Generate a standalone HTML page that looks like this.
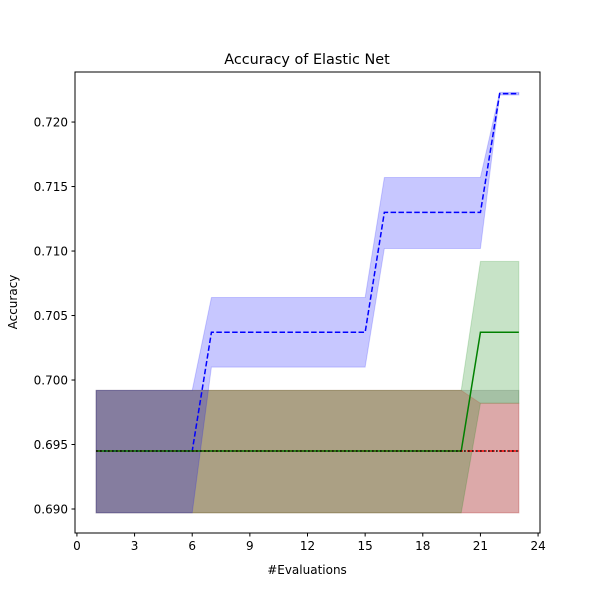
<!DOCTYPE html>
<html><head><meta charset="utf-8"><style>
body{margin:0;background:#fff}
text{font-family:"DejaVu Sans","Liberation Sans",sans-serif;fill:#000}
</style></head><body>
<svg id="chart" width="600" height="600" xmlns="http://www.w3.org/2000/svg">
<rect width="600" height="600" fill="#fff"/>
<text x="307" y="64" font-size="14.4" text-anchor="middle">Accuracy of Elastic Net</text>
<g id="bands"></g><g id="lines"></g>
<rect x="75" y="72" width="465" height="461" fill="none" stroke="#000" stroke-width="1"/>
<g id="axes"></g>
<text x="307" y="574" font-size="12" text-anchor="middle">#Evaluations</text>
<text transform="translate(17,302) rotate(-90)" font-size="12" text-anchor="middle">Accuracy</text>
</svg>
<script>
const evals=[1,2,3,4,5,6,7,8,9,10,11,12,13,14,15,16,17,18,19,20,21,22,23];
const blueMean=[0.6945,0.6945,0.6945,0.6945,0.6945,0.6945,0.7037,0.7037,0.7037,0.7037,0.7037,0.7037,0.7037,0.7037,0.7037,0.7130,0.7130,0.7130,0.7130,0.7130,0.7130,0.7222,0.7222];
const blueLo=[0.6897,0.6897,0.6897,0.6897,0.6897,0.6897,0.7010,0.7010,0.7010,0.7010,0.7010,0.7010,0.7010,0.7010,0.7010,0.7102,0.7102,0.7102,0.7102,0.7102,0.7102,0.7221,0.7221];
const blueHi=[0.6992,0.6992,0.6992,0.6992,0.6992,0.6992,0.7064,0.7064,0.7064,0.7064,0.7064,0.7064,0.7064,0.7064,0.7064,0.7157,0.7157,0.7157,0.7157,0.7157,0.7157,0.7223,0.7223];
const greenMean=[0.6945,0.6945,0.6945,0.6945,0.6945,0.6945,0.6945,0.6945,0.6945,0.6945,0.6945,0.6945,0.6945,0.6945,0.6945,0.6945,0.6945,0.6945,0.6945,0.6945,0.7037,0.7037,0.7037];
const greenLo=[0.6897,0.6897,0.6897,0.6897,0.6897,0.6897,0.6897,0.6897,0.6897,0.6897,0.6897,0.6897,0.6897,0.6897,0.6897,0.6897,0.6897,0.6897,0.6897,0.6897,0.6982,0.6982,0.6982];
const greenHi=[0.6992,0.6992,0.6992,0.6992,0.6992,0.6992,0.6992,0.6992,0.6992,0.6992,0.6992,0.6992,0.6992,0.6992,0.6992,0.6992,0.6992,0.6992,0.6992,0.6992,0.7092,0.7092,0.7092];
const redMean=[0.6945,0.6945,0.6945,0.6945,0.6945,0.6945,0.6945,0.6945,0.6945,0.6945,0.6945,0.6945,0.6945,0.6945,0.6945,0.6945,0.6945,0.6945,0.6945,0.6945,0.6945,0.6945,0.6945];
const redLo=[0.6897,0.6897,0.6897,0.6897,0.6897,0.6897,0.6897,0.6897,0.6897,0.6897,0.6897,0.6897,0.6897,0.6897,0.6897,0.6897,0.6897,0.6897,0.6897,0.6897,0.6897,0.6897,0.6897];
const redHi=[0.6992,0.6992,0.6992,0.6992,0.6992,0.6992,0.6992,0.6992,0.6992,0.6992,0.6992,0.6992,0.6992,0.6992,0.6992,0.6992,0.6992,0.6992,0.6992,0.6992,0.6982,0.6982,0.6982];
const blackMean=[0.6945,0.6945,0.6945,0.6945,0.6945,0.6945,0.6945,0.6945,0.6945,0.6945,0.6945,0.6945,0.6945,0.6945,0.6945,0.6945,0.6945,0.6945,0.6945,0.6945,0.6945,0.6945,0.6945];
const blackLo=[0.6897,0.6897,0.6897,0.6897,0.6897,0.6897,0.6897,0.6897,0.6897,0.6897,0.6897,0.6897,0.6897,0.6897,0.6897,0.6897,0.6897,0.6897,0.6897,0.6897,0.6897,0.6897,0.6897];
const blackHi=[0.6992,0.6992,0.6992,0.6992,0.6992,0.6992,0.6992,0.6992,0.6992,0.6992,0.6992,0.6992,0.6992,0.6992,0.6992,0.6992,0.6992,0.6992,0.6992,0.6992,0.6992,0.6992,0.6992];
const xTicks=[0,3,6,9,12,15,18,21,24];
const yTicks=[0.690,0.695,0.700,0.705,0.710,0.715,0.720];

const NS='http://www.w3.org/2000/svg';
const L=75,R=540,T=72,B=533,X0=-0.1,X1=24.1,Y0=0.68814,Y1=0.72388;
const sx=v=>L+(v-X0)/(X1-X0)*(R-L);
const sy=v=>B-(v-Y0)/(Y1-Y0)*(B-T);
function mk(tag,attrs,parent){const e=document.createElementNS(NS,tag);for(const k in attrs)e.setAttribute(k,attrs[k]);parent.appendChild(e);return e;}
const bands=document.getElementById('bands'),lines=document.getElementById('lines'),axes=document.getElementById('axes');
const bandOrder=[
 {name:'black',lo:blackLo,hi:blackHi,color:'#000000',a:0.17},
 {name:'red',lo:redLo,hi:redHi,color:'#ff0000',a:0.2},
 {name:'green',lo:greenLo,hi:greenHi,color:'#008000',a:0.22},
 {name:'blue',lo:blueLo,hi:blueHi,color:'#0000ff',a:0.22}];
bandOrder.forEach(s=>{
 let d='M'+evals.map((e,i)=>sx(e)+','+sy(s.hi[i])).join('L');
 for(let i=evals.length-1;i>=0;i--)d+='L'+sx(evals[i])+','+sy(s.lo[i]);
 const p=mk('path',{d:d+'Z',fill:s.color,'fill-opacity':s.a,stroke:s.color,'stroke-opacity':s.a*0.8},bands);
 
 
});
const lineOrder=[
 {name:'blue',mean:blueMean,color:'#0000ff',dash:'5.5,2.4'},
 {name:'red',mean:redMean,color:'#ff0000',dash:'6.4,1.6,1,1.6'},
 {name:'green',mean:greenMean,color:'#008000',dash:''},
 {name:'black',mean:blackMean,color:'#000000',dash:'1.5,2.5'}];
lineOrder.forEach(s=>{
 const pts=evals.map((e,i)=>sx(e)+','+sy(s.mean[i])).join(' ');
 const a={points:pts,fill:'none',stroke:s.color,'stroke-width':1.5};
 if(s.dash)a['stroke-dasharray']=s.dash;
 const p=mk('polyline',a,lines);
 
 
});
xTicks.forEach(t=>{
 const x=sx(t);
 const l=mk('line',{x1:x,x2:x,y1:B,y2:B+3.5,stroke:'#000'},axes);
 
 
 const tx=mk('text',{x:x,y:B+17,'font-size':12,'text-anchor':'middle'},axes);
 tx.textContent=t;
 
 
});
yTicks.forEach(t=>{
 const y=sy(t);
 const l=mk('line',{x1:L-3.5,x2:L,y1:y,y2:y,stroke:'#000'},axes);
 
 
 const tx=mk('text',{x:L-7,y:y+4.3,'font-size':12,'text-anchor':'end'},axes);
 tx.textContent=t.toFixed(3);
 
 
});
</script>
</body></html>
